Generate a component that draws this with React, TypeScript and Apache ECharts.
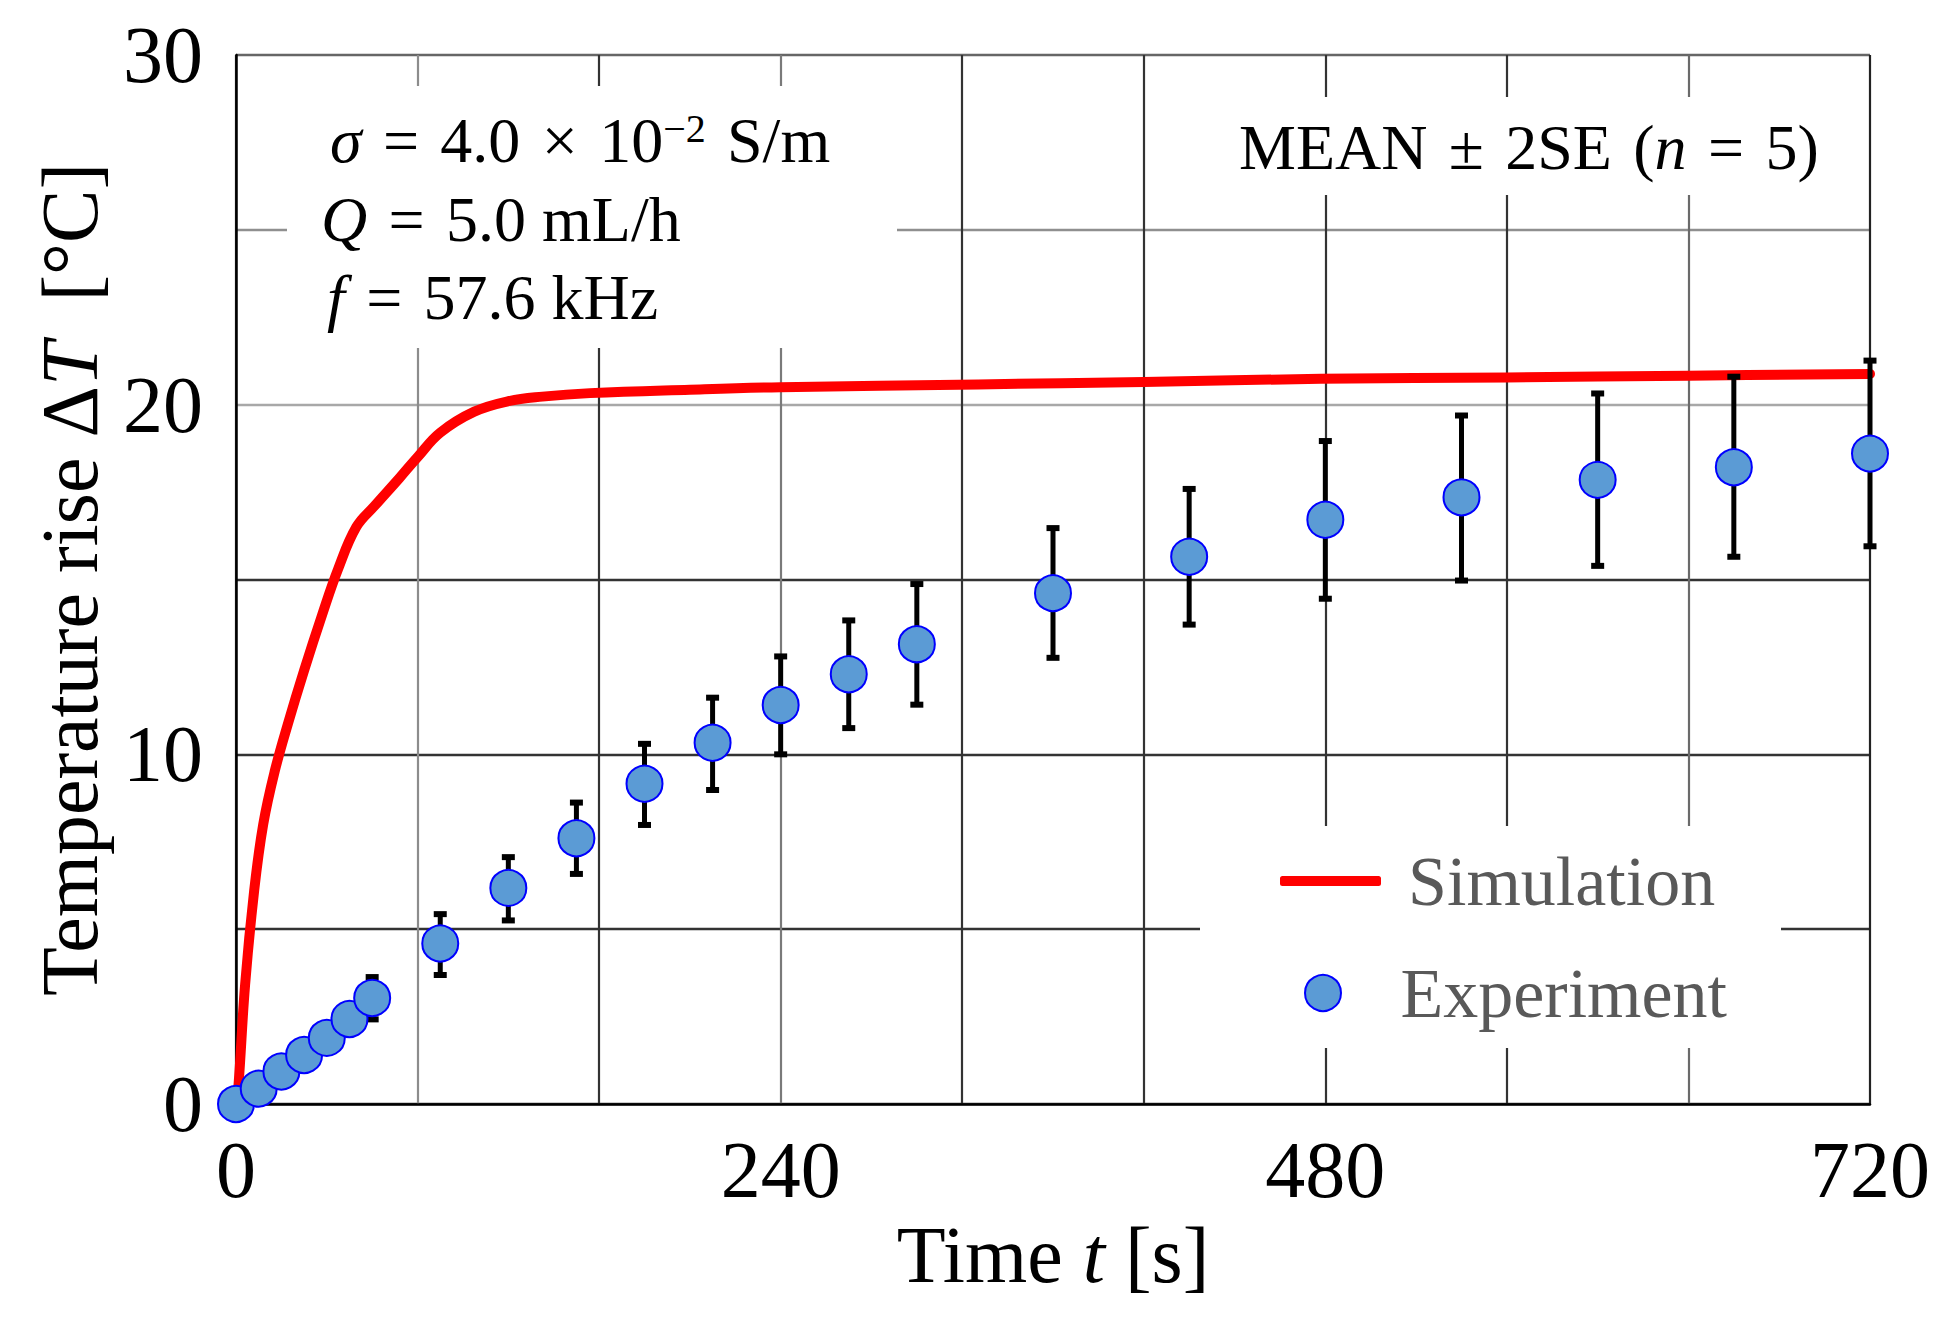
import React, { useEffect, useRef } from "react";
import * as echarts from "echarts";

// ---- Data ----
const simTime = [0, 1, 4, 8, 12, 17, 23, 30, 38, 45, 53, 61, 72, 80, 90, 105, 120, 135, 156, 200, 240, 327, 400, 478, 560, 640, 720];
const simRise = [0, 0.45, 3.4, 6.1, 8.0, 9.5, 10.9, 12.4, 14.0, 15.3, 16.5, 17.1, 17.9, 18.5, 19.2, 19.8, 20.1, 20.23, 20.33, 20.43, 20.5, 20.58, 20.65, 20.74, 20.78, 20.83, 20.88];

const expTime = [0, 10, 20, 30, 40, 50, 60, 90, 120, 150, 180, 210, 240, 270, 300, 360, 420, 480, 540, 600, 660, 720];
const expMean = [0, 0.44, 0.93, 1.4, 1.89, 2.43, 3.03, 4.59, 6.18, 7.6, 9.16, 10.33, 11.41, 12.29, 13.15, 14.61, 15.65, 16.71, 17.35, 17.85, 18.21, 18.6];
const expHigh = [0.15, 0.6, 1.1, 1.6, 2.1, 2.65, 3.63, 5.43, 7.06, 8.62, 10.3, 11.62, 12.8, 13.83, 14.87, 16.47, 17.59, 18.96, 19.69, 20.32, 20.8, 21.26];
const expLow = [0, 0.3, 0.75, 1.2, 1.7, 2.2, 2.42, 3.69, 5.25, 6.58, 7.98, 8.98, 10.0, 10.75, 11.42, 12.76, 13.71, 14.45, 14.97, 15.39, 15.65, 15.95];

const xTickLabels = [0, 240, 480, 720];
const yTickLabels = [0, 10, 20, 30];

const SERIF = "'Liberation Serif', 'Times New Roman', serif";
const SP = "\u2004"; // three-per-em space (math-like spacing)

export default function App() {
  const ref = useRef<HTMLDivElement>(null);

  useEffect(() => {
    if (!ref.current) return;
    const chart = echarts.init(ref.current, undefined, { renderer: "svg" });

    const simData = simTime.map((t, i) => [t, simRise[i]]);
    const expData = expTime.map((t, i) => [t, expMean[i]]);
    const errData = expTime.map((t, i) => [t, expLow[i], expHigh[i]]);

    const PF = 64;
    const mathRich = {
      i: { fontFamily: SERIF, fontStyle: "italic", fontSize: PF, fill: "#000" },
      sup: { fontFamily: SERIF, fontSize: 40, verticalAlign: "top", fill: "#000" },
    };

    const option: any = {
      animation: false,
      backgroundColor: "#fff",
      grid: { left: 236, right: 84, top: 55, bottom: 213, containLabel: false },
      xAxis: {
        type: "value",
        min: 0,
        max: 720,
        interval: 80,
        axisLine: { show: true, lineStyle: { color: "#000", width: 2.5 } },
        axisTick: { show: false },
        splitLine: {
          show: true,
          lineStyle: {
            color: ["#333", "#8c8c8c", "#333", "#7a7a7a", "#333", "#333", "#333", "#333", "#6a6a6a", "#222"],
            width: 2.2,
          },
        },
        axisLabel: {
          margin: 26,
          fontSize: 80,
          fontFamily: SERIF,
          color: "#000",
          formatter: (v: number) => (xTickLabels.includes(v) ? String(v) : ""),
        },
        name: "Time {i|t} [s]",
        nameLocation: "middle",
        nameGap: 108,
        nameTextStyle: {
          fontSize: 80,
          fontFamily: SERIF,
          color: "#000",
          rich: { i: { fontSize: 80, fontFamily: SERIF, fontStyle: "italic", color: "#000" } },
        },
      },
      yAxis: {
        type: "value",
        min: 0,
        max: 30,
        interval: 5,
        axisLine: { show: true, lineStyle: { color: "#000", width: 2.5 } },
        axisTick: { show: false },
        splitLine: {
          show: true,
          lineStyle: {
            color: ["#333", "#333", "#333", "#333", "#a8a8a8", "#8f8f8f", "#666"],
            width: 2.4,
          },
        },
        axisLabel: {
          margin: 33,
          fontSize: 80,
          fontFamily: SERIF,
          color: "#000",
          formatter: (v: number) => (yTickLabels.includes(v) ? String(v) : ""),
        },
        name: "Temperature rise Δ{i|T}  [°C]",
        nameLocation: "middle",
        nameGap: 126,
        nameTextStyle: {
          fontSize: 80,
          fontFamily: SERIF,
          color: "#000",
          rich: { i: { fontSize: 80, fontFamily: SERIF, fontStyle: "italic", color: "#000" } },
        },
      },
      legend: [
        {
          orient: "vertical",
          left: 1275,
          top: 841,
          data: [{ name: "Simulation", icon: "roundRect" }],
          itemWidth: 101,
          itemHeight: 10,
          textStyle: { fontSize: 70, fontFamily: SERIF, color: "#595959", padding: [0, 0, 0, 22] },
          z: 6,
        },
        {
          orient: "vertical",
          left: 1299,
          top: 953,
          data: [{ name: "Experiment", icon: "circle" }],
          itemWidth: 101,
          itemHeight: 36,
          textStyle: { fontSize: 70, fontFamily: SERIF, color: "#595959", padding: [0, 0, 0, 22] },
          z: 6,
        },
      ],
      graphic: [
        { type: "rect", z: 1, shape: { x: 287, y: 86, width: 610, height: 262 }, style: { fill: "#fff" } },
        { type: "rect", z: 1, shape: { x: 1200, y: 97, width: 660, height: 98 }, style: { fill: "#fff" } },
        { type: "rect", z: 1, shape: { x: 1200, y: 826, width: 581, height: 222 }, style: { fill: "#fff" } },
        {
          type: "text",
          z: 2,
          x: 330,
          y: 140,
          style: {
            text: `{i|σ}${SP}=${SP}4.0${SP}×${SP}10{sup|−2}${SP}S/m`,
            fontFamily: SERIF,
            fontSize: PF,
            fill: "#000",
            verticalAlign: "middle",
            rich: mathRich,
          },
        },
        {
          type: "text",
          z: 2,
          x: 321,
          y: 219,
          style: {
            text: `{i|Q}${SP}=${SP}5.0 mL/h`,
            fontFamily: SERIF,
            fontSize: PF,
            fill: "#000",
            verticalAlign: "middle",
            rich: mathRich,
          },
        },
        {
          type: "text",
          z: 2,
          x: 327,
          y: 297,
          style: {
            text: `{i|f}${SP}=${SP}57.6 kHz`,
            fontFamily: SERIF,
            fontSize: PF,
            fill: "#000",
            verticalAlign: "middle",
            rich: mathRich,
          },
        },
        {
          type: "text",
          z: 2,
          x: 1239,
          y: 147,
          style: {
            text: `MEAN${SP}±${SP}2SE${SP}({i|n}${SP}=${SP}5)`,
            fontFamily: SERIF,
            fontSize: 64,
            fill: "#000",
            verticalAlign: "middle",
            rich: { i: { fontFamily: SERIF, fontStyle: "italic", fontSize: 64, fill: "#000" } },
          },
        },
      ],
      series: [
        {
          name: "Simulation",
          type: "line",
          data: simData,
          smooth: 0.4,
          showSymbol: false,
          symbol: "none",
          lineStyle: { color: "#ff0000", width: 10, join: "round", cap: "round" },
          itemStyle: { color: "#ff0000" },
          z: 3,
        },
        {
          name: "Error",
          type: "custom",
          data: errData,
          z: 4,
          encode: { x: 0, y: [1, 2] },
          renderItem: (params: any, api: any) => {
            const x = api.value(0);
            const lo = api.coord([x, api.value(1)]);
            const hi = api.coord([x, api.value(2)]);
            const half = 6.5;
            const st = { stroke: "#000", lineWidth: 5 };
            const cap = { stroke: "#000", lineWidth: 6 };
            return {
              type: "group",
              children: [
                { type: "line", shape: { x1: hi[0], y1: hi[1], x2: lo[0], y2: lo[1] }, style: st },
                { type: "line", shape: { x1: hi[0] - half, y1: hi[1], x2: hi[0] + half, y2: hi[1] }, style: cap },
                { type: "line", shape: { x1: lo[0] - half, y1: lo[1], x2: lo[0] + half, y2: lo[1] }, style: cap },
              ],
            };
          },
        },
        {
          name: "Experiment",
          type: "scatter",
          data: expData,
          symbol: "circle",
          symbolSize: 36,
          itemStyle: { color: "#5b9bd5", borderColor: "#0000ff", borderWidth: 2, opacity: 1 },
          z: 5,
        },
      ],
    };

    chart.setOption(option);
    return () => chart.dispose();
  }, []);

  return (
    <div
      ref={ref}
      style={{ position: "absolute", left: 0, top: 0, width: 1954, height: 1317, background: "#fff" }}
    />
  );
}
